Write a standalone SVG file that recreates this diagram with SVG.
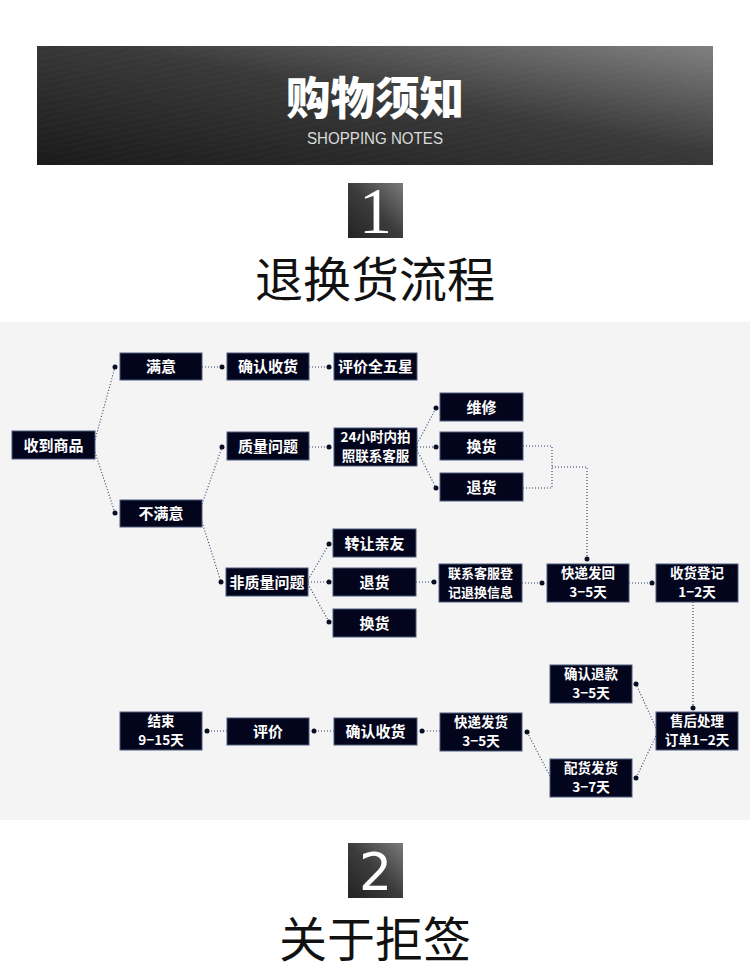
<svg xmlns="http://www.w3.org/2000/svg" width="750" height="970" viewBox="0 0 750 970">
<defs>
<linearGradient id="banner" x1="0" y1="1" x2="1" y2="0">
<stop offset="0" stop-color="#1a1a1a"/>
<stop offset="0.55" stop-color="#3a3a3a"/>
<stop offset="1" stop-color="#808080"/>
</linearGradient>
<linearGradient id="numbox" x1="0" y1="1" x2="1" y2="0">
<stop offset="0" stop-color="#232323"/>
<stop offset="0.5" stop-color="#3c3c3c"/>
<stop offset="1" stop-color="#7a7a7a"/>
</linearGradient>
<pattern id="stripes" width="6" height="6" patternUnits="userSpaceOnUse" patternTransform="rotate(-12)">
<rect width="6" height="1" fill="#ffffff" opacity="0.025"/>
</pattern>
</defs>
<style>
.node rect{fill:#03051c;stroke:#4b5a7c;stroke-width:1}
.node text{fill:#ffffff;font-family:"Noto Sans CJK SC","Noto Sans",sans-serif;font-weight:bold;font-size:15px;text-anchor:middle}
.node text.two{font-size:13.5px}
.node text.sm{font-size:13px}
.conn path{fill:none;stroke:#2c3c6c;stroke-width:1.1;stroke-dasharray:1 2}
.conn circle{fill:#0b0f24}
.h2{font-family:"Noto Sans CJK SC","Noto Sans",sans-serif;font-size:48px;fill:#111;text-anchor:middle}
</style>
<rect width="750" height="970" fill="#ffffff"/>
<g id="banner">
<rect x="37" y="46" width="676" height="119" fill="url(#banner)"/>
<rect x="37" y="46" width="676" height="119" fill="url(#stripes)"/>
<text x="375" y="115" font-family="Noto Sans CJK SC,sans-serif" font-weight="900" font-size="45" fill="#ffffff" text-anchor="middle" textLength="178" lengthAdjust="spacingAndGlyphs">购物须知</text>
<text x="375" y="144" font-family="Liberation Sans,sans-serif" font-size="16" fill="#dcdcdc" text-anchor="middle" textLength="136" lengthAdjust="spacingAndGlyphs">SHOPPING NOTES</text>
</g>
<g id="section1">
<rect x="348" y="183" width="55" height="55" fill="url(#numbox)"/>
<text x="375.5" y="233" font-family="'Liberation Serif',serif" font-size="66" fill="#ffffff" text-anchor="middle">1</text>
<text class="h2" x="375" y="297">退换货流程</text>
</g>
<rect id="panel" x="0" y="322" width="750" height="498" fill="#f4f4f4"/>
<g class="conn" id="connectors">
<path d="M95,440 L115,367"/><circle cx="115" cy="367" r="2.5"/>
<path d="M95,452 L115,513"/><circle cx="115" cy="513" r="2.5"/>
<path d="M202,367 L222,367"/><circle cx="222" cy="367" r="2.5"/>
<path d="M309,367 L329,367"/><circle cx="329" cy="367" r="2.5"/>
<path d="M202,504 L222,447"/><circle cx="222" cy="447" r="2.5"/>
<path d="M202,522 L221,582"/><circle cx="221" cy="582" r="2.5"/>
<path d="M309,447 L329,447"/><circle cx="329" cy="447" r="2.5"/>
<path d="M417,444 L436,408"/><circle cx="436" cy="408" r="2.5"/>
<path d="M417,447 L436,447"/><circle cx="436" cy="447" r="2.5"/>
<path d="M417,450 L436,488"/><circle cx="436" cy="488" r="2.5"/>
<path d="M308,580 L329,544"/><circle cx="329" cy="544" r="2.5"/>
<path d="M308,582 L329,582"/><circle cx="329" cy="582" r="2.5"/>
<path d="M308,584 L329,622"/><circle cx="329" cy="622" r="2.5"/>
<path d="M523,446 H552 V488 H523"/>
<path d="M552,467 H587 V559"/><circle cx="587" cy="559" r="2.5"/>
<path d="M416,582 L434,582"/><circle cx="434" cy="582" r="2.5"/>
<path d="M522,583 L542,583"/><circle cx="542" cy="583" r="2.5"/>
<path d="M629,583 L652,583"/><circle cx="652" cy="583" r="2.5"/>
<path d="M693,602 V708"/><circle cx="693" cy="708" r="2.5"/>
<path d="M656,728 L636,684"/><circle cx="636" cy="684" r="2.5"/>
<path d="M656,736 L636,778"/><circle cx="636" cy="778" r="2.5"/>
<path d="M550,776 L527,732"/><circle cx="527" cy="732" r="2.5"/>
<path d="M440,731 L422,731"/><circle cx="422" cy="731" r="2.5"/>
<path d="M334,731 L314,731"/><circle cx="314" cy="731" r="2.5"/>
<path d="M227,731 L207,731"/><circle cx="207" cy="731" r="2.5"/>
</g>
<g class="node" id="n-receive"><rect x="12" y="431" width="83" height="28"/><text x="53.5" y="450.5">收到商品</text></g>
<g class="node" id="n-satisfied"><rect x="120" y="353" width="82" height="27"/><text x="161" y="372">满意</text></g>
<g class="node" id="n-confirm1"><rect x="227" y="353" width="82" height="27"/><text x="268" y="372">确认收货</text></g>
<g class="node" id="n-fivestar"><rect x="334" y="353" width="83" height="27"/><text x="375.5" y="372">评价全五星</text></g>
<g class="node" id="n-unsatisfied"><rect x="120" y="500" width="82" height="27"/><text x="161" y="519">不满意</text></g>
<g class="node" id="n-quality"><rect x="227" y="432" width="82" height="28"/><text x="268" y="451.5">质量问题</text></g>
<g class="node" id="n-24h"><rect x="334" y="428" width="83" height="38"/><text class="two" x="375.5" y="442">24小时内拍</text><text class="two" x="375.5" y="461">照联系客服</text></g>
<g class="node" id="n-repair"><rect x="440" y="393" width="83" height="28"/><text x="481.5" y="412.5">维修</text></g>
<g class="node" id="n-exchange1"><rect x="440" y="432" width="83" height="28"/><text x="481.5" y="451.5">换货</text></g>
<g class="node" id="n-return1"><rect x="440" y="473" width="83" height="28"/><text x="481.5" y="492.5">退货</text></g>
<g class="node" id="n-nonquality"><rect x="226" y="568" width="82" height="28"/><text x="267" y="587.5">非质量问题</text></g>
<g class="node" id="n-transfer"><rect x="333" y="529" width="83" height="28"/><text x="374.5" y="548.5">转让亲友</text></g>
<g class="node" id="n-return2"><rect x="333" y="568" width="83" height="28"/><text x="374.5" y="587.5">退货</text></g>
<g class="node" id="n-exchange2"><rect x="333" y="609" width="83" height="28"/><text x="374.5" y="628.5">换货</text></g>
<g class="node" id="n-contact"><rect x="439" y="564" width="83" height="38"/><text class="sm" x="480.5" y="578">联系客服登</text><text class="sm" x="480.5" y="597">记退换信息</text></g>
<g class="node" id="n-sendback"><rect x="547" y="564" width="82" height="38"/><text class="two" x="588" y="578">快递发回</text><text class="two" x="588" y="597">3−5天</text></g>
<g class="node" id="n-register"><rect x="656" y="564" width="82" height="38"/><text class="two" x="697" y="578">收货登记</text><text class="two" x="697" y="597">1−2天</text></g>
<g class="node" id="n-aftersale"><rect x="656" y="712" width="82" height="38"/><text class="two" x="697" y="726">售后处理</text><text class="two" x="697" y="745">订单1−2天</text></g>
<g class="node" id="n-refund"><rect x="550" y="665" width="82" height="38"/><text class="two" x="591" y="679">确认退款</text><text class="two" x="591" y="698">3−5天</text></g>
<g class="node" id="n-dispatch"><rect x="550" y="759" width="82" height="38"/><text class="two" x="591" y="773">配货发货</text><text class="two" x="591" y="792">3−7天</text></g>
<g class="node" id="n-ship"><rect x="440" y="713" width="82" height="38"/><text class="two" x="481" y="727">快递发货</text><text class="two" x="481" y="746">3−5天</text></g>
<g class="node" id="n-confirm2"><rect x="334" y="718" width="83" height="27"/><text x="375.5" y="737">确认收货</text></g>
<g class="node" id="n-review"><rect x="227" y="718" width="82" height="27"/><text x="268" y="737">评价</text></g>
<g class="node" id="n-end"><rect x="120" y="712" width="82" height="38"/><text class="two" x="161" y="726">结束</text><text class="two" x="161" y="745">9−15天</text></g>
<g id="section2">
<rect x="348" y="843" width="55" height="55" fill="url(#numbox)"/>
<text x="375.5" y="890" font-family="'DejaVu Sans',sans-serif" font-size="52" fill="#ffffff" text-anchor="middle">2</text>
<text class="h2" x="375" y="957">关于拒签</text>
</g>
</svg>
